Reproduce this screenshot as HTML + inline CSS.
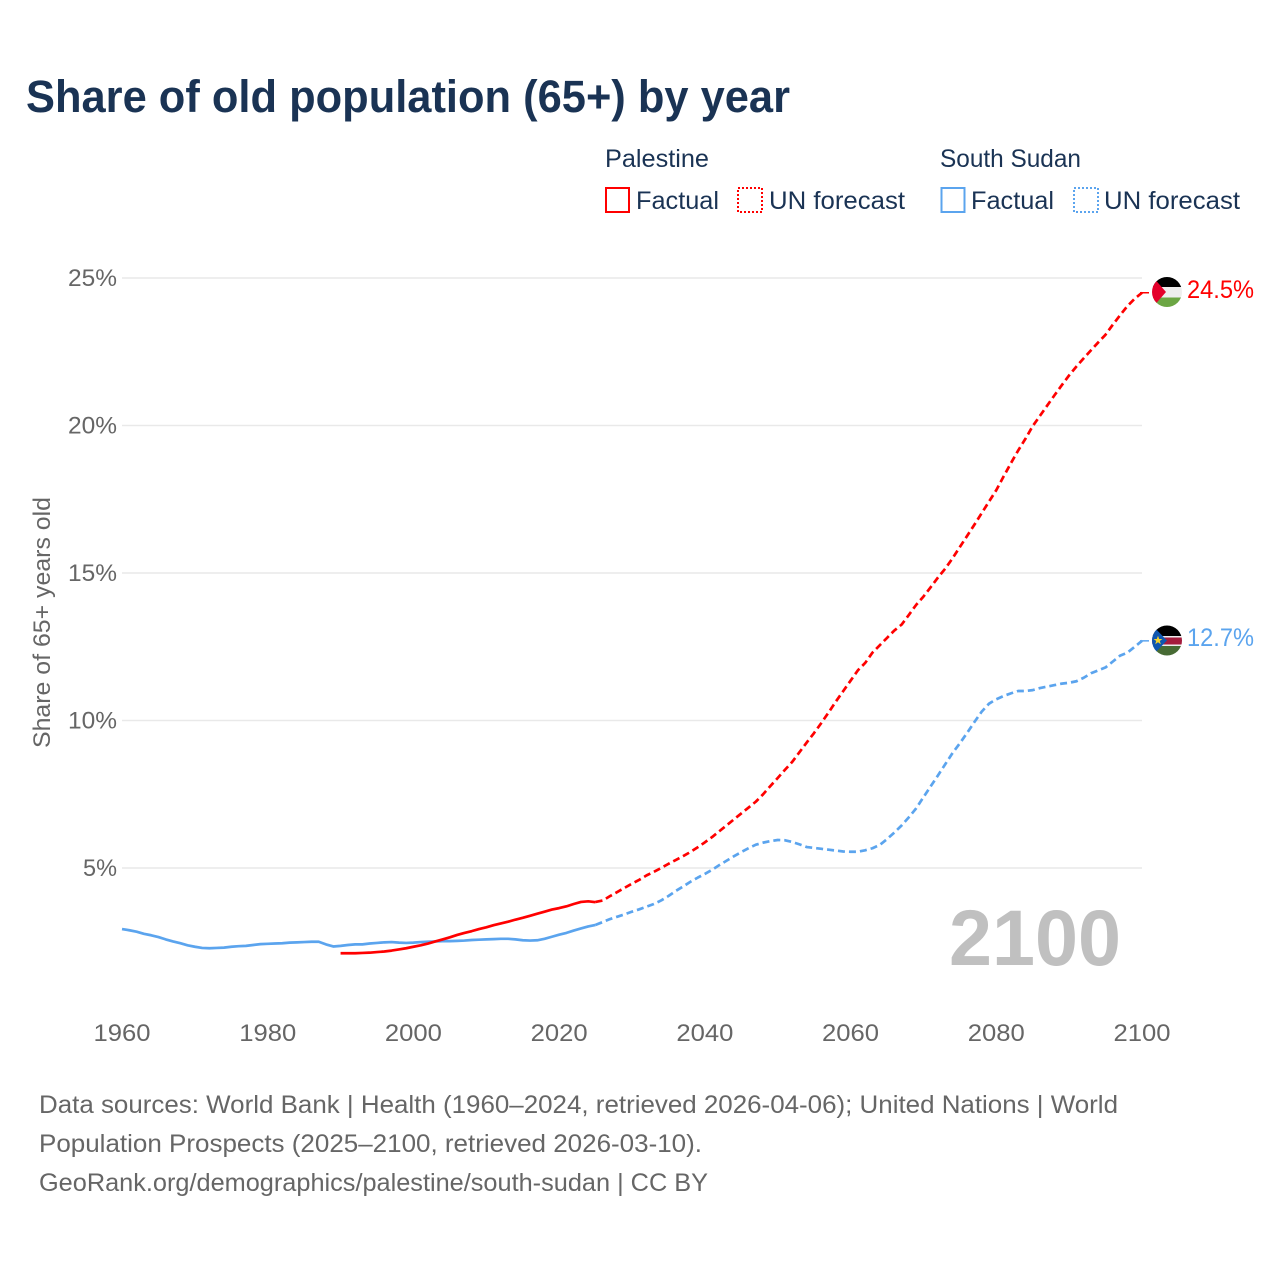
<!DOCTYPE html>
<html lang="en">
<head>
<meta charset="utf-8">
<title>Share of old population (65+) by year</title>
<style>
html,body{margin:0;padding:0;background:#fff;width:1280px;height:1280px;overflow:hidden}
svg{display:block}
text{font-family:"Liberation Sans",sans-serif}
</style>
</head>
<body>
<svg id="chart" xmlns="http://www.w3.org/2000/svg" width="1280" height="1280" viewBox="0 0 1280 1280">
  <rect width="1280" height="1280" fill="#fff"/>
  <text x="26" y="112" font-size="45" font-weight="700" fill="#1a3354" textLength="764" lengthAdjust="spacingAndGlyphs">Share of old population (65+) by year</text>

  <g font-size="25" fill="#1a3354">
    <text x="605" y="167" textLength="104" lengthAdjust="spacingAndGlyphs">Palestine</text>
    <rect x="606" y="188" width="23" height="24" fill="none" stroke="#ff0000" stroke-width="2"/>
    <text x="636" y="209" textLength="83" lengthAdjust="spacingAndGlyphs">Factual</text>
    <rect x="738" y="188" width="24" height="24" fill="none" stroke="#ff0000" stroke-width="2" stroke-dasharray="2 2"/>
    <text x="769" y="209" textLength="136" lengthAdjust="spacingAndGlyphs">UN forecast</text>
    <text x="940" y="167" textLength="141" lengthAdjust="spacingAndGlyphs">South Sudan</text>
    <rect x="941.5" y="188" width="23" height="24" fill="none" stroke="#5ba4ee" stroke-width="2"/>
    <text x="971" y="209" textLength="83" lengthAdjust="spacingAndGlyphs">Factual</text>
    <rect x="1074" y="188" width="24" height="24" fill="none" stroke="#5ba4ee" stroke-width="2" stroke-dasharray="2 2"/>
    <text x="1104" y="209" textLength="136" lengthAdjust="spacingAndGlyphs">UN forecast</text>
  </g>

  <g id="grid"></g>
  <g id="yticks" font-size="24" fill="#666"></g>
  <g id="xticks" font-size="24" fill="#666"></g>
  <text transform="translate(50,748) rotate(-90)" font-size="24" fill="#666" textLength="251" lengthAdjust="spacingAndGlyphs">Share of 65+ years old</text>

  <text x="949" y="965" font-size="79" font-weight="700" fill="#c0c0c0" textLength="172" lengthAdjust="spacingAndGlyphs">2100</text>

  <g id="series"></g>

  <defs>
    <clipPath id="clip-ps"><circle cx="1167" cy="292" r="15"/></clipPath>
    <clipPath id="clip-ss"><circle cx="1167" cy="640.5" r="15"/></clipPath>
  </defs>
  <g clip-path="url(#clip-ps)">
    <rect x="1152" y="276" width="30" height="11" fill="#000"/>
    <rect x="1152" y="287" width="30" height="11" fill="#eeeeee"/>
    <rect x="1152" y="297.5" width="30" height="10" fill="#6ca644"/>
    <polygon points="1152,276 1166,292 1152,308" fill="#e4002b"/>
  </g>
  <g clip-path="url(#clip-ss)">
    <rect x="1152" y="625" width="30" height="11" fill="#000"/>
    <rect x="1152" y="636" width="30" height="11" fill="#eeeeee"/>
    <rect x="1152" y="637.5" width="30" height="7" fill="#a51c3d"/>
    <rect x="1152" y="646" width="30" height="10" fill="#476b34"/>
    <polygon points="1152,625 1167,640.5 1152,656" fill="#0f57b0"/>
    <polygon points="1158,635.8 1159.2,639 1162.4,639 1159.8,641 1160.8,644.2 1158,642.2 1155.2,644.2 1156.2,641 1153.6,639 1156.8,639" fill="#f6d32d"/>
  </g>

  <text x="1187" y="298" font-size="25" fill="#ff0000" textLength="67" lengthAdjust="spacingAndGlyphs">24.5%</text>
  <text x="1187" y="646" font-size="25" fill="#5ba4ee" textLength="67" lengthAdjust="spacingAndGlyphs">12.7%</text>

  <g font-size="25" fill="#666">
    <text x="39" y="1113" textLength="1079" lengthAdjust="spacingAndGlyphs">Data sources: World Bank | Health (1960–2024, retrieved 2026-04-06); United Nations | World</text>
    <text x="39" y="1152" textLength="663" lengthAdjust="spacingAndGlyphs">Population Prospects (2025–2100, retrieved 2026-03-10).</text>
    <text x="39" y="1191" textLength="669" lengthAdjust="spacingAndGlyphs">GeoRank.org/demographics/palestine/south-sudan | CC BY</text>
  </g>
</svg>
<script>
const yTickValues = [5, 10, 15, 20, 25];
const xTickValues = [1960, 1980, 2000, 2020, 2040, 2060, 2080, 2100];

const palestineFactualStart = 1990;
const palestineFactual = [2.11,2.11,2.11,2.12,2.13,2.15,2.17,2.2,2.24,2.28,2.33,2.38,2.44,2.51,2.58,2.65,2.73,2.8,2.86,2.93,2.99,3.06,3.12,3.18,3.25,3.31,3.38,3.45,3.52,3.59,3.64,3.7,3.78,3.85,3.87,3.84];

const southSudanFactualStart = 1960;
const southSudanFactual = [2.93,2.89,2.84,2.77,2.72,2.66,2.58,2.51,2.45,2.38,2.33,2.29,2.28,2.29,2.3,2.33,2.35,2.36,2.39,2.42,2.43,2.44,2.45,2.47,2.48,2.49,2.5,2.5,2.41,2.34,2.36,2.39,2.41,2.41,2.44,2.46,2.48,2.49,2.47,2.46,2.47,2.49,2.5,2.51,2.52,2.52,2.53,2.54,2.56,2.57,2.58,2.59,2.6,2.6,2.58,2.55,2.54,2.55,2.6,2.67,2.74,2.8,2.88,2.95,3.02,3.07];

const forecastStart = 2025;
const palestineForecast = [3.85,3.9,4.05,4.19,4.33,4.47,4.6,4.75,4.87,5.0,5.14,5.27,5.4,5.54,5.7,5.87,6.05,6.25,6.45,6.65,6.85,7.05,7.25,7.5,7.78,8.05,8.33,8.6,8.93,9.26,9.58,9.92,10.28,10.65,11.0,11.35,11.7,11.95,12.3,12.55,12.8,13.05,13.25,13.58,13.92,14.2,14.52,14.85,15.15,15.5,15.88,16.26,16.64,17.03,17.42,17.81,18.27,18.72,19.15,19.55,19.98,20.33,20.68,21.03,21.37,21.7,22.0,22.28,22.55,22.82,23.08,23.42,23.74,24.05,24.3,24.5];
const southSudanForecast = [3.07,3.17,3.27,3.35,3.43,3.52,3.6,3.69,3.78,3.9,4.05,4.22,4.37,4.53,4.67,4.8,4.94,5.1,5.25,5.4,5.54,5.67,5.79,5.86,5.91,5.95,5.94,5.88,5.8,5.71,5.68,5.65,5.62,5.59,5.56,5.55,5.55,5.6,5.67,5.78,5.98,6.2,6.44,6.72,7.02,7.4,7.77,8.14,8.52,8.9,9.23,9.58,9.95,10.3,10.57,10.72,10.83,10.92,11.0,11.0,11.03,11.1,11.15,11.2,11.25,11.28,11.33,11.45,11.6,11.7,11.8,12.0,12.2,12.3,12.5,12.7];

const NS = 'http://www.w3.org/2000/svg';
function xScale(year) { return 122 + (year - 1960) * (1020 / 140); }
function yScale(v) { return 868 - (v - 5) * (590 / 20); }
function pathFrom(values, startYear) {
  return values.map(function (v, i) {
    return (i ? 'L' : 'M') + xScale(startYear + i).toFixed(2) + ' ' + yScale(v).toFixed(2);
  }).join('');
}

const grid = document.getElementById('grid');
const yticks = document.getElementById('yticks');
yTickValues.forEach(function (v) {
  const line = document.createElementNS(NS, 'line');
  
  
  line.setAttribute('x1', xScale(1960));
  line.setAttribute('x2', xScale(2100));
  line.setAttribute('y1', yScale(v));
  line.setAttribute('y2', yScale(v));
  line.setAttribute('stroke', '#e9e9e9');
  line.setAttribute('stroke-width', '1.5');
  grid.appendChild(line);
  const t = document.createElementNS(NS, 'text');
  
  
  const label = v + '%';
  t.setAttribute('x', 117 - (label.length === 3 ? 49 : 34));
  t.setAttribute('y', yScale(v) + 8);
  t.setAttribute('textLength', label.length === 3 ? 49 : 34);
  t.setAttribute('lengthAdjust', 'spacingAndGlyphs');
  t.textContent = label;
  yticks.appendChild(t);
});

const xticks = document.getElementById('xticks');
xTickValues.forEach(function (year) {
  const t = document.createElementNS(NS, 'text');
  
  
  t.setAttribute('x', xScale(year) - 28.5);
  t.setAttribute('y', 1041);
  t.setAttribute('textLength', 57);
  t.setAttribute('lengthAdjust', 'spacingAndGlyphs');
  t.textContent = String(year);
  xticks.appendChild(t);
});

const series = document.getElementById('series');
function addLine(name, values, startYear, color, dashed) {
  const p = document.createElementNS(NS, 'path');
  
  
  p.setAttribute('d', pathFrom(values, startYear));
  p.setAttribute('fill', 'none');
  p.setAttribute('stroke', color);
  p.setAttribute('stroke-width', '2.7');
  p.setAttribute('stroke-linejoin', 'round');
  if (dashed) p.setAttribute('stroke-dasharray', '7 4');
  series.appendChild(p);
}
function addConnector(name, value, color) {
  const c = document.createElementNS(NS, 'line');
  
  
  c.setAttribute('x1', xScale(2100) - 2);
  c.setAttribute('x2', xScale(2100) + 7);
  c.setAttribute('y1', yScale(value));
  c.setAttribute('y2', yScale(value));
  c.setAttribute('stroke', color);
  c.setAttribute('stroke-width', '1.5');
  series.appendChild(c);
}
addLine('south-sudan-factual-line', southSudanFactual, southSudanFactualStart, '#5ba4ee', false);
addLine('south-sudan-forecast-line', southSudanForecast, forecastStart, '#5ba4ee', true);
addLine('palestine-factual-line', palestineFactual, palestineFactualStart, '#ff0000', false);
addLine('palestine-forecast-line', palestineForecast, forecastStart, '#ff0000', true);
addConnector('palestine-flag-connector', palestineForecast[palestineForecast.length - 1], '#ff0000');
addConnector('south-sudan-flag-connector', southSudanForecast[southSudanForecast.length - 1], '#5ba4ee');
</script>
</body>
</html>
